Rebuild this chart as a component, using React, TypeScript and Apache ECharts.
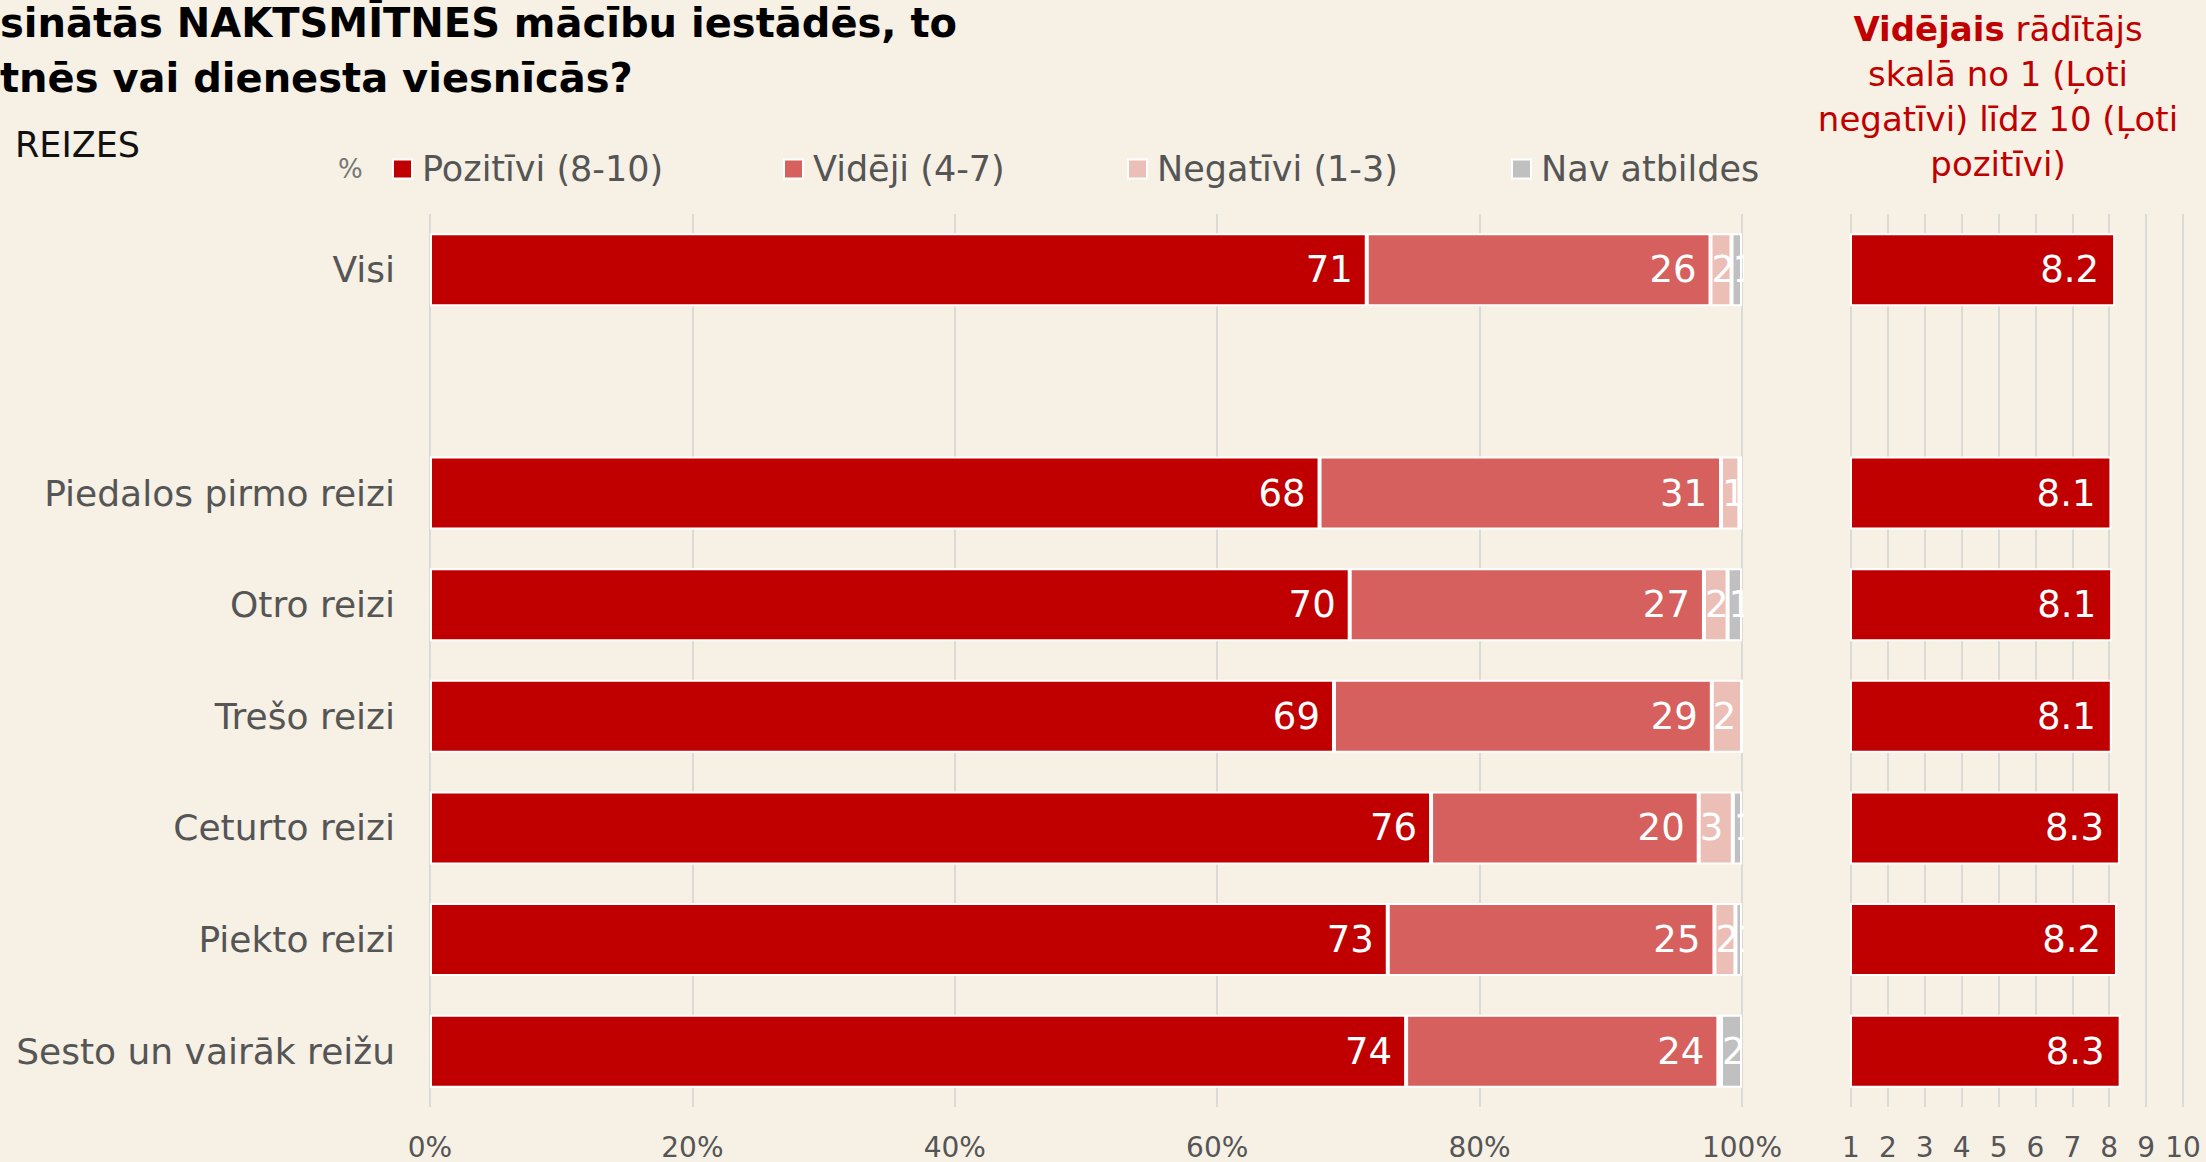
import React, { useEffect, useRef } from "react";
import * as echarts from "echarts";

// ---- data ----
const CATEGORIES = [
  "Visi",
  "",
  "Piedalos pirmo reizi",
  "Otro reizi",
  "Trešo reizi",
  "Ceturto reizi",
  "Piekto reizi",
  "Sesto un vairāk reižu",
];
const SERIES_NAMES = ["Pozitīvi (8-10)", "Vidēji (4-7)", "Negatīvi (1-3)", "Nav atbildes"];
const POSITIVE = [71.4, null, 67.8, 70.1, 68.9, 76.3, 73.0, 74.4];
const AVERAGE = [26.2, null, 30.6, 27.0, 28.8, 20.4, 24.9, 23.8];
const NEGATIVE = [1.6, null, 1.4, 1.8, 2.3, 2.6, 1.6, 0.2];
const NO_ANSWER = [0.8, null, 0.2, 1.1, 0, 0.7, 0.5, 1.6];
const MEAN_SCORE = [8.16, null, 8.06, 8.08, 8.07, 8.29, 8.21, 8.31];
const PCT_AXIS = { min: 0, max: 100, interval: 20 };
const SCORE_AXIS = { min: 1, max: 10, interval: 1 };

const TITLE_LINES = ["sinātās NAKTSMĪTNES mācību iestādēs, to", "tnēs vai dienesta viesnīcās?"];
const GROUP_LABEL = "REIZES";
const HEADER_TEXT = "{b|Vidējais} rādītājs\nskalā no 1 (Ļoti\nnegatīvi) līdz 10 (Ļoti\npozitīvi)";

// ---- styles / layout ----
const W = 2206;
const H = 1162;
const BG = "#f6f0e5";
const COLORS = ["#c00000", "#d6605d", "#ebbeb6", "#c0c0c0"];
const FONT = '"DejaVu Sans", sans-serif';
const GRID_TOP = 214;
const GRID_BOTTOM = 55;
const LEFT_L = 430;
const LEFT_R = 1742;
const RIGHT_L = 1851;
const RIGHT_R = 2183;
const BAR_W = 73;
const VAL_FONT = 37;
const LEGEND_X = [387, 778, 1122, 1506];

export default function App() {
  const ref = useRef<HTMLDivElement>(null);

  useEffect(() => {
    document.body.style.margin = "0";
    document.body.style.background = BG;
    if (!ref.current) return;
    const chart = echarts.init(ref.current, null, { renderer: "svg" });
    const plotW = LEFT_R - LEFT_L;

    const segLabel = (v: number) => {
      const r = Math.round(v);
      const w = (v / 100) * plotW;
      const tw = String(r).length * 0.636 * VAL_FONT;
      if (r >= 1 && w < tw + 14) return { position: "insideLeft", distance: 1 };
      return undefined;
    };

    const stackSeries = [POSITIVE, AVERAGE, NEGATIVE, NO_ANSWER].map((vals, i) => ({
      type: "bar",
      name: SERIES_NAMES[i],
      stack: "total",
      xAxisIndex: 0,
      yAxisIndex: 0,
      barWidth: BAR_W,
      itemStyle: { color: COLORS[i], borderColor: "#ffffff", borderWidth: 2 },
      label: {
        show: true,
        position: "insideRight",
        distance: 14,
        color: "#ffffff",
        fontSize: VAL_FONT,
        fontFamily: FONT,
        formatter: (p: any) => {
          const r = Math.round(Number(p.value));
          return r >= 1 ? String(r) : "";
        },
      },
      data: vals.map((v) => {
        if (v == null) return "-";
        const l = segLabel(v);
        return l ? { value: v, label: l } : { value: v };
      }),
    }));

    const meanSeries = {
      type: "bar",
      name: "Vidējais",
      xAxisIndex: 1,
      yAxisIndex: 1,
      barWidth: BAR_W,
      clip: true,
      itemStyle: { color: COLORS[0], borderColor: "#ffffff", borderWidth: 2 },
      label: {
        show: true,
        position: "insideRight",
        distance: 16,
        color: "#ffffff",
        fontSize: VAL_FONT,
        fontFamily: FONT,
        formatter: (p: any) => Number(p.value).toFixed(1),
      },
      data: MEAN_SCORE.map((v) => (v == null ? "-" : v)),
    };

    const axisLabelStyle = { color: "#555", fontSize: 28, fontFamily: FONT, margin: 26 };
    const splitLine = { show: true, lineStyle: { color: "#dcdad5", width: 2 } };

    chart.setOption({
      animation: false,
      backgroundColor: BG,
      textStyle: { fontFamily: FONT },
      grid: [
        { left: LEFT_L, right: W - LEFT_R, top: GRID_TOP, bottom: GRID_BOTTOM, containLabel: false },
        { left: RIGHT_L, right: W - RIGHT_R, top: GRID_TOP, bottom: GRID_BOTTOM, containLabel: false },
      ],
      xAxis: [
        {
          type: "value",
          gridIndex: 0,
          ...PCT_AXIS,
          axisLine: { show: false },
          axisTick: { show: false },
          splitLine,
          axisLabel: { ...axisLabelStyle, formatter: "{value}%" },
        },
        {
          type: "value",
          gridIndex: 1,
          ...SCORE_AXIS,
          axisLine: { show: false },
          axisTick: { show: false },
          splitLine,
          axisLabel: { ...axisLabelStyle },
        },
      ],
      yAxis: [
        {
          type: "category",
          gridIndex: 0,
          data: CATEGORIES,
          inverse: true,
          axisLine: { show: false },
          axisTick: { show: false },
          splitLine: { show: false },
          axisLabel: { color: "#555", fontSize: 36, fontFamily: FONT, margin: 35, interval: 0 },
        },
        {
          type: "category",
          gridIndex: 1,
          data: CATEGORIES,
          inverse: true,
          axisLine: { show: false },
          axisTick: { show: false },
          splitLine: { show: false },
          axisLabel: { show: false },
        },
      ],
      legend: SERIES_NAMES.map((n, i) => ({
        data: [n],
        left: LEGEND_X[i],
        top: 144,
        icon: "rect",
        itemWidth: 19,
        itemHeight: 19,
        selectedMode: false,
        textStyle: { color: "#555", fontSize: 35, fontFamily: FONT, padding: [0, 0, 0, 5], lineHeight: 40 },
      })),
      graphic: [
        {
          type: "text",
          x: 0,
          y: 23,
          silent: true,
          style: {
            text: TITLE_LINES[0],
            fontSize: 40,
            fontWeight: "bold",
            fontFamily: FONT,
            fill: "#000",
            verticalAlign: "middle",
          },
        },
        {
          type: "text",
          x: 0,
          y: 78,
          silent: true,
          style: {
            text: TITLE_LINES[1],
            fontSize: 40,
            fontWeight: "bold",
            fontFamily: FONT,
            fill: "#000",
            verticalAlign: "middle",
          },
        },
        {
          type: "text",
          x: 15,
          y: 145,
          silent: true,
          style: { text: GROUP_LABEL, fontSize: 35, fontFamily: FONT, fill: "#111", verticalAlign: "middle" },
        },
        {
          type: "text",
          x: 338,
          y: 169,
          silent: true,
          style: { text: "%", fontSize: 26, fontFamily: FONT, fill: "#777", verticalAlign: "middle" },
        },
        {
          type: "text",
          x: 1998,
          y: 6,
          silent: true,
          style: {
            text: HEADER_TEXT,
            fontSize: 34,
            fontFamily: FONT,
            fill: "#c00000",
            align: "center",
            verticalAlign: "top",
            lineHeight: 45,
            rich: {
              b: { fontSize: 34, fontWeight: "bold", fontFamily: FONT, fill: "#c00000", lineHeight: 45 },
            },
          },
        },
        {
          type: "rect",
          z: 100,
          silent: true,
          shape: { x: LEFT_R + 2, y: GRID_TOP, width: RIGHT_L - LEFT_R - 5, height: H - GRID_TOP - GRID_BOTTOM },
          style: { fill: BG },
        },
      ],
      series: [...stackSeries, meanSeries],
    });

    return () => chart.dispose();
  }, []);

  return (
    <div
      ref={ref}
      style={{ position: "fixed", left: 0, top: 0, width: W + "px", height: H + "px" }}
    />
  );
}
